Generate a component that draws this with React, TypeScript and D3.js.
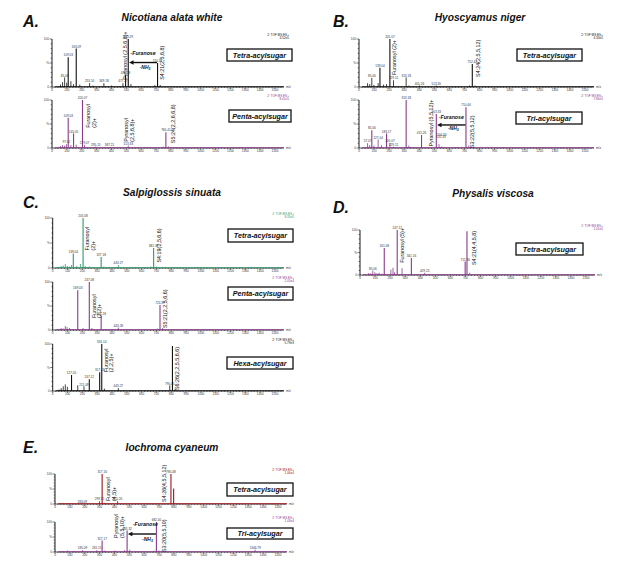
import React from "react";
import * as d3 from "d3";

type Peak = [number, number, string?];

// ---------- data (m/z, relative intensity %, label) ----------
const a1Peaks: Peak[] = [
  [57, 5], [71, 10], [85, 20, "85.06"], [99, 9], [109, 62, "109.03"], [127, 12], [145, 6],
  [163, 80, "163.09"], [187, 5], [253, 8, "253.10"], [275, 3], [349, 8, "349.18"], [401, 3],
  [477, 8, "477.27"], [495, 25, "495.28"], [513, 100, "513.29"], [531, 6], [692, 4],
  [710, 50, "710.38"], [728, 4],
];
const a2Peaks: Peak[] = [
  [57, 4], [71, 6], [85, 5], [97, 8, "97.02"], [109, 63, "109.03"], [127, 6], [145, 30, "145.05"],
  [163, 7], [205, 100, "205.07"], [219, 6, "219.07"], [295, 3, "295.15"], [387, 2, "387.21"],
  [513, 5, "513.33"], [748, 3], [766, 33, "766.41"], [784, 3],
];
const b1Peaks: Peak[] = [
  [57, 8], [71, 6], [85, 19, "85.06"], [99, 4], [127, 8], [139, 40, "139.04"], [163, 5], [183, 6],
  [205, 100, "205.07"], [229, 14, "229.11"], [313, 20, "313.18"], [331, 3], [401, 3, "401.26"],
  [513, 3, "513.30"], [734, 3], [752, 48, "752.42"], [770, 3],
];
const b2Peaks: Peak[] = [
  [57, 10, "57.07"], [71, 6], [85, 37, "85.06"], [99, 5], [127, 18, "127.04"], [149, 6],
  [183, 30, "183.17"], [205, 10, "205.07"], [229, 3, "229.11"], [313, 100, "313.18"], [331, 5],
  [415, 27, "415.26"], [513, 71, "513.33"], [531, 8, "531.33"], [549, 3, "534.33"],
  [710, 85, "710.44"], [728, 5],
];
const c1Peaks: Peak[] = [
  [43, 2], [57, 4], [71, 5], [85, 8], [99, 4], [113, 3], [127, 6], [139, 29, "139.04"], [163, 4],
  [187, 8], [205, 100, "205.08"], [219, 4], [247, 3], [327, 22, "327.18"], [345, 3],
  [443, 6, "443.27"], [663, 3], [681, 40, "681.36"], [699, 3], [1340, 2],
];
const c2Peaks: Peak[] = [
  [57, 4], [71, 3], [85, 8], [97, 6], [113, 4], [169, 83, "169.03"], [205, 4], [247, 100, "247.08"],
  [265, 4], [327, 30, "327.18"], [443, 5, "443.28"], [706, 3], [724, 52, "724.37"], [742, 4],
];
const c3Peaks: Peak[] = [
  [43, 3], [57, 6], [71, 10], [85, 14], [99, 9], [127, 34, "127.05"], [169, 12], [211, 10, "211.09"],
  [247, 25, "247.12"], [317, 40, "317.13"], [331, 100, "331.14"], [349, 5], [443, 6, "443.27"],
  [790, 12, "790.45"], [808, 96], [826, 4],
];
const dPeaks: Peak[] = [
  [57, 4], [71, 4], [85, 10, "85.06"], [99, 6], [113, 4], [127, 5], [147, 3], [161, 60, "161.08"],
  [205, 12], [219, 16], [229, 6], [247, 100, "247.12"], [279, 15], [341, 38, "341.16"],
  [429, 5, "429.25"], [698, 30, "712.36"], [710, 97], [728, 5],
];
const e1Peaks: Peak[] = [
  [57, 2], [85, 2], [183, 2, "183.09"], [299, 10, "299.15"], [317, 100, "317.16"], [335, 4],
  [421, 10, "421.26"], [780, 100, "780.48"], [798, 52],
];
const e2Peaks: Peak[] = [
  [57, 3], [85, 5], [127, 4], [185, 6, "185.09"], [281, 6, "281.15"], [317, 38, "317.17"], [335, 5],
  [403, 5], [467, 6], [485, 72, "485.32"], [503, 8], [664, 4], [682, 100, "682.40"], [700, 5],
  [1346, 8, "1346.79"],
];

const xTickValues = [0, 100, 200, 300, 400, 500, 600, 700, 800, 900, 1000, 1100, 1200, 1300, 1400, 1500];
const panelLetters = ["A.", "B.", "C.", "D.", "E."];
const panelTitles = ["Nicotiana alata white", "Hyoscyamus niger", "Salpiglossis sinuata", "Physalis viscosa", "Iochroma cyaneum"];
const scaleTexts = ["3.52e5", "8.41e5", "4.33e5", "7.84e5", "8.35e5", "2.05e4", "5.79e3", "1.01e5", "1.06e4", "1.43e4"];
const boxTexts = ["Tetra-acylsugar", "Penta-acylsugar", "Tetra-acylsugar", "Tri-acylsugar", "Tetra-acylsugar",
  "Penta-acylsugar", "Hexa-acylsugar", "Tetra-acylsugar", "Tetra-acylsugar", "Tri-acylsugar"];

// ---------- layout ----------
const BLACK = "#111111";
const PURPLE = "#8a3a8c";
const GREEN = "#2f9a6c";
const RED = "#a0141e";
const FONT = "Arial, 'Liberation Sans', Helvetica, sans-serif";

interface Ann { mz: number; dx: number; f: number; lines: string[] }
interface Arrow { from: number; to: number; fText: number; fArrow: number; fNh3: number; tdx?: number }
interface Spec {
  peaks: Peak[]; color: string; x0: number; x1500: number; top: number; base: number;
  hdrX: number; scale: string; box: [number, number, number, number]; boxText: string;
  anns: Ann[]; arrow?: Arrow; lift?: Record<number, [number, number]>;
}

const specs: Spec[] = [
  { peaks: a1Peaks, color: BLACK, x0: 52, x1500: 275, top: 39, base: 87, hdrX: 289, scale: scaleTexts[0],
    box: [227, 49, 65, 12], boxText: boxTexts[0],
    anns: [{ mz: 513, dx: -1.5, f: 0.15, lines: ["Pyranosyl (2,5,6,8)+"] }, { mz: 710, dx: 6, f: 0.15, lines: ["S4:21(2,5,6,8)"] }],
    arrow: { from: 710, to: 513, fText: 0.66, fArrow: 0.51, fNh3: 0.38 } },
  { peaks: a2Peaks, color: PURPLE, x0: 52, x1500: 275, top: 100, base: 148, hdrX: 289, scale: scaleTexts[1],
    box: [229, 110, 62, 12], boxText: boxTexts[1],
    anns: [{ mz: 205, dx: 8, f: 0.42, lines: ["Furanosyl", "(2)+"] }, { mz: 513, dx: 0, f: 0.13, lines: ["Pyranosyl", "(2,5,6,8)+"] },
      { mz: 766, dx: 9, f: 0.1, lines: ["S5:24(2,2,6,6,8)"] }] },
  { peaks: b1Peaks, color: BLACK, x0: 359, x1500: 585, top: 39, base: 87, hdrX: 603, scale: scaleTexts[2],
    box: [517, 49, 65, 12], boxText: boxTexts[2],
    anns: [{ mz: 205, dx: 6, f: 0.25, lines: ["Furanosyl (2)+"] }, { mz: 752, dx: 8, f: 0.21, lines: ["S4:24(2,5,5,12)"] }] },
  { peaks: b2Peaks, color: PURPLE, x0: 359, x1500: 585, top: 100, base: 148, hdrX: 603, scale: scaleTexts[3],
    box: [516, 112, 66, 12], boxText: boxTexts[3],
    anns: [{ mz: 513, dx: -3, f: 0.03, lines: ["Pyranosyl (5,5,12)+"] }, { mz: 710, dx: 8, f: 0.0, lines: ["S3:22(5,5,12)"] }],
    arrow: { from: 710, to: 513, fText: 0.6, fArrow: 0.48, fNh3: 0.38 },
    lift: { 531: [5, 2], 549: [10, 0] } },
  { peaks: c1Peaks, color: GREEN, x0: 52.7, x1500: 275, top: 218, base: 268, hdrX: 294, scale: scaleTexts[4],
    box: [228, 229, 65, 13], boxText: boxTexts[4],
    anns: [{ mz: 205, dx: 6, f: 0.35, lines: ["Furanosyl", "(2)+"] }, { mz: 681, dx: 7, f: 0.11, lines: ["S4:19(2,5,6,6)"] }] },
  { peaks: c2Peaks, color: PURPLE, x0: 52.7, x1500: 275, top: 282, base: 330, hdrX: 294, scale: scaleTexts[5],
    box: [228, 287, 65, 13], boxText: boxTexts[5],
    anns: [{ mz: 247, dx: 6.5, f: 0.25, lines: ["Furanosyl", "(2,2)+"] }, { mz: 724, dx: 7, f: 0.04, lines: ["S5:21(2,2,5,6,6)"] }] },
  { peaks: c3Peaks, color: BLACK, x0: 52.7, x1500: 275, top: 344, base: 391, hdrX: 294, scale: scaleTexts[6],
    box: [227, 357, 66, 12], boxText: boxTexts[6],
    anns: [{ mz: 331, dx: 6, f: 0.4, lines: ["Furanosyl", "(2,2,5)+"] }, { mz: 808, dx: 7, f: 0.02, lines: ["S6:26(2,2,5,5,6,6)"] }] },
  { peaks: dPeaks, color: PURPLE, x0: 360, x1500: 586, top: 230, base: 275, hdrX: 603, scale: scaleTexts[7],
    box: [516, 243, 67, 12], boxText: boxTexts[7],
    anns: [{ mz: 247, dx: 7, f: 0.27, lines: ["Furanosyl (5)+"] }, { mz: 710, dx: 9, f: 0.22, lines: ["S4:21(4,4,5,8)"] }] },
  { peaks: e1Peaks, color: RED, x0: 55, x1500: 278, top: 474, base: 504, hdrX: 294, scale: scaleTexts[8],
    box: [227, 483, 66, 13], boxText: boxTexts[8],
    anns: [{ mz: 317, dx: 8, f: 0.1, lines: ["Furanosyl", "(4,5)+"] }, { mz: 780, dx: -5, f: 0.07, lines: ["S4:26(4,5,5,12)"] }] },
  { peaks: e2Peaks, color: PURPLE, x0: 55, x1500: 278, top: 522, base: 552, hdrX: 294, scale: scaleTexts[9],
    box: [227, 528, 66, 11], boxText: boxTexts[9],
    anns: [{ mz: 485, dx: -9, f: 0.47, lines: ["Pyranosyl", "(5,5,10)+"] }, { mz: 682, dx: 10, f: 0.0, lines: ["S3:20(5,5,10)"] }],
    arrow: { from: 682, to: 485, fText: 0.86, fArrow: 0.6, fNh3: 0.38, tdx: 3.5 } },
];

const letterPos: [number, number][] = [[23, 27], [333, 27], [23, 208], [333, 213], [23, 453]];
const titlePos: [number, number][] = [[172, 21], [480, 21], [172, 196], [493, 197], [172, 451]];

function Spectrum({ s }: { s: Spec }) {
  const x = d3.scaleLinear().domain([0, 1500]).range([s.x0, s.x1500]);
  const y = d3.scaleLinear().domain([0, 100]).range([s.base, s.top]);
  const xEnd = x(1560);
  const minors = d3.range(0, 1560, 20);
  const yMinors = d3.range(0, 101, 10);
  const tf = 3.1;
  return (
    <g fontFamily={FONT}>
      <text x={s.hdrX} y={s.top - 3.4} fontSize={3.1} textAnchor="end" fill={s.color}>2: TOF MS ES+</text>
      <text x={s.hdrX} y={s.top + 0.2} fontSize={3.1} textAnchor="end" fill={s.color}>{s.scale}</text>
      {/* y axis */}
      <line x1={s.x0} x2={s.x0} y1={s.base} y2={s.top} stroke="#000" strokeWidth={0.9} />
      {yMinors.map((v) => (
        <line key={"ym" + v} x1={s.x0 - (v % 50 === 0 ? 2.5 : 1.3)} x2={s.x0} y1={y(v)} y2={y(v)} stroke="#000" strokeWidth={0.5} />
      ))}
      <text x={s.x0 - 3} y={y(100) + 1.2} fontSize={tf} textAnchor="end" fill="#333">100</text>
      <text x={s.x0 - 3} y={y(50) + 1.2} fontSize={tf} textAnchor="end" fill="#333">%</text>
      <text x={s.x0 - 3} y={y(0) + 1.2} fontSize={tf} textAnchor="end" fill="#333">0</text>
      {/* x axis */}
      <line x1={s.x0} x2={xEnd} y1={s.base} y2={s.base} stroke="#000" strokeWidth={0.7} />
      {minors.map((v) => (
        <line key={"xm" + v} x1={x(v)} x2={x(v)} y1={s.base} y2={s.base + (v % 100 === 0 ? 2 : 1)} stroke="#000" strokeWidth={0.45} />
      ))}
      {xTickValues.map((v) => (
        <text key={"xt" + v} x={x(v)} y={s.base + 4.4} fontSize={tf} textAnchor="middle" fill="#333">{v}</text>
      ))}
      <text x={xEnd + 2} y={s.base + 1} fontSize={tf} fill="#333">m/z</text>
      {/* coloured baseline */}
      <line x1={x(20)} x2={xEnd} y1={s.base - 0.3} y2={s.base - 0.3} stroke={s.color} strokeWidth={0.9} />
      {/* peaks */}
      {s.peaks.map(([mz, v], i) => (
        <line key={"p" + i} x1={x(mz)} x2={x(mz)} y1={y(0)} y2={y(v)} stroke={s.color} strokeWidth={v > 20 ? 1.1 : 0.8} />
      ))}
      {s.peaks.filter((p) => p[2]).map(([mz, v, lab], i) => {
        const lf = s.lift && s.lift[mz] ? s.lift[mz] : [0, 0];
        return (
          <text key={"pl" + i} x={x(mz) + lf[1]} y={y(v) - 0.8 - lf[0]} fontSize={3.1} textAnchor="middle" fill="#333">{lab}</text>
        );
      })}
      {/* rotated annotations */}
      {s.anns.map((a, i) =>
        a.lines.map((ln, j) => {
          const tx = x(a.mz) + a.dx + j * 5.6;
          const ty = s.base - a.f * (s.base - s.top);
          return (
            <text key={"an" + i + "_" + j} transform={`translate(${tx},${ty}) rotate(-90)`} fontSize={5.4} fill="#111">{ln}</text>
          );
        })
      )}
      {s.arrow && (() => {
        const a = s.arrow!;
        const h = s.base - s.top;
        const xa = x(a.to) + 0.8;
        const xb = x(a.from) - 0.5;
        const ya = s.base - a.fArrow * h;
        const xm = (xa + xb) / 2 + (a.tdx || 0);
        return (
          <g>
            <text x={xm} y={s.base - a.fText * h} fontSize={5.2} fontWeight="bold" fontStyle="italic" textAnchor="middle" fill="#111">-Furanose</text>
            <line x1={xa + 4} x2={xb} y1={ya} y2={ya} stroke="#111" strokeWidth={1.4} />
            <polygon points={`${xa},${ya} ${xa + 4.5},${ya - 2.2} ${xa + 4.5},${ya + 2.2}`} fill="#111" />
            <text x={xm + 2} y={s.base - a.fNh3 * h} fontSize={5} fontWeight="bold" fontStyle="italic" textAnchor="middle" fill="#111">
              -NH<tspan fontSize={3.4} dy={1}>3</tspan>
            </text>
          </g>
        );
      })()}
      {/* box */}
      <rect x={s.box[0]} y={s.box[1]} width={s.box[2]} height={s.box[3]} fill="#fff" stroke="#111" strokeWidth={1.3} />
      <text x={s.box[0] + s.box[2] / 2} y={s.box[1] + s.box[3] / 2 + 2.5} fontSize={7.2} fontWeight="bold" fontStyle="italic" textAnchor="middle" fill="#111">{s.boxText}</text>
    </g>
  );
}

export default function App() {
  return (
    <svg width={617} height={577} viewBox="0 0 617 577" style={{ position: "absolute", left: 0, top: 0, background: "#fff" }}>
      <rect x={0} y={0} width={617} height={577} fill="#fff" />
      {panelLetters.map((l, i) => (
        <text key={l} x={letterPos[i][0]} y={letterPos[i][1]} fontFamily={FONT} fontSize={16} fontWeight="bold" fontStyle="italic" fill="#111">{l}</text>
      ))}
      {panelTitles.map((t, i) => (
        <text key={t} x={titlePos[i][0]} y={titlePos[i][1]} fontFamily={FONT} fontSize={10.2} fontWeight="bold" fontStyle="italic" textAnchor="middle" fill="#111">{t}</text>
      ))}
      {specs.map((s, i) => <Spectrum key={i} s={s} />)}
    </svg>
  );
}
